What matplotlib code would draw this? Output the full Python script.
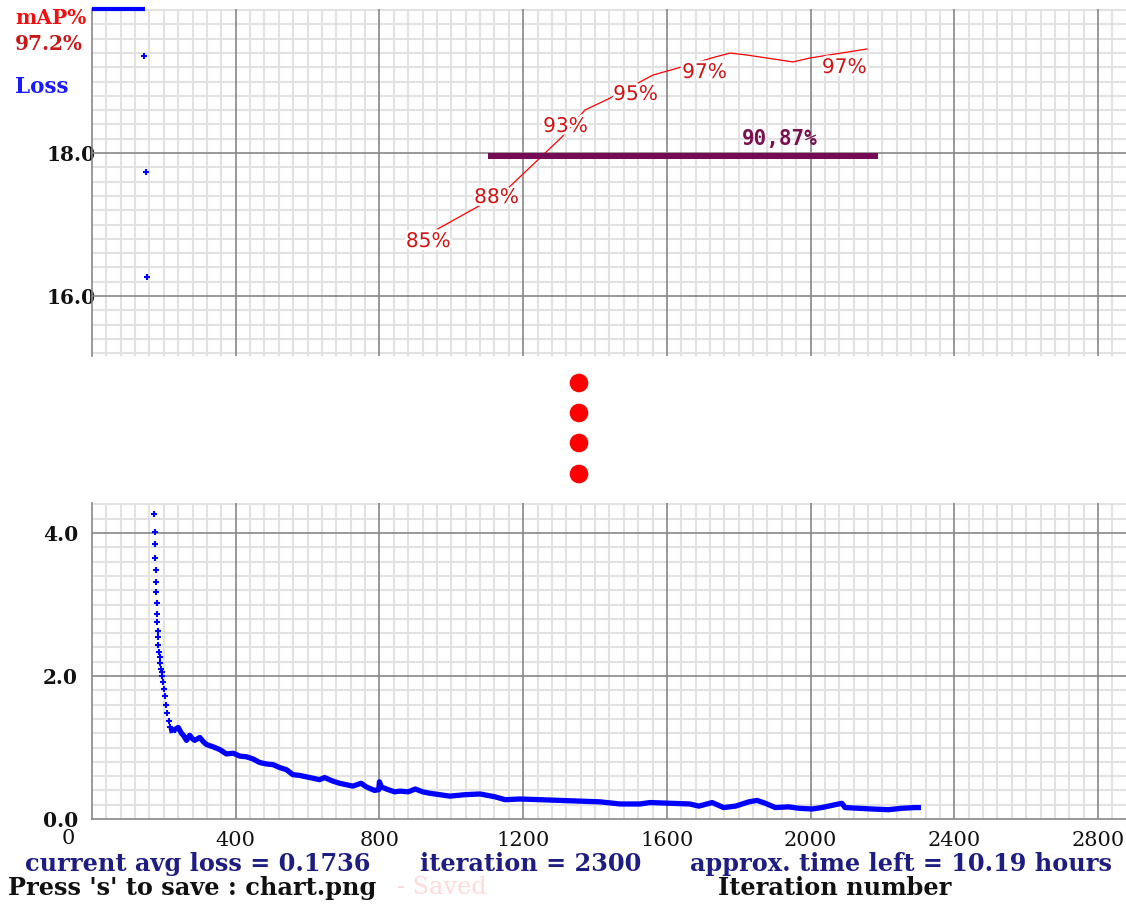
import numpy as np
import matplotlib
matplotlib.use("Agg")
import matplotlib.pyplot as plt
from matplotlib import patheffects as pe
from matplotlib.ticker import MultipleLocator, FixedLocator

# ---------------- data ----------------
x_major_ticks = [0, 400, 800, 1200, 1600, 2000, 2400, 2800]
x_tick_labels = ["0", "400", "800", "1200", "1600", "2000", "2400", "2800"]
top_y_ticks = [16.0, 18.0]
top_y_labels = ["16.0", "18.0"]
bottom_y_ticks = [0.0, 2.0, 4.0]
bottom_y_labels = ["0.0", "2.0", "4.0"]

# loss above the visible range (drawn at the top edge)
loss_offscale_iters = [0, 147]
# sparse loss points in the upper (broken) panel
loss_top_iters = [145, 150, 152]
loss_top_values = [19.36, 17.74, 16.27]

# loss curve in the lower panel
loss_iters = [173, 174, 175, 176, 177, 178, 179, 180, 181, 182, 183, 184, 185, 186,
              188, 190, 192, 194, 196, 198, 200, 202, 205, 209, 213, 218, 222,
              230, 240, 249, 256, 263, 272, 280, 286, 300, 310, 319, 337, 356,
              374, 393, 411, 430, 448, 467, 485, 504, 522, 541, 559, 578, 596,
              615, 633, 647, 670, 689, 707, 726, 749, 763, 786, 798, 800, 805,
              819, 842, 857, 880, 900, 920, 940, 996, 1038, 1080, 1122, 1150,
              1191, 1247, 1303, 1358, 1414, 1470, 1525, 1553, 1609, 1664, 1689,
              1726, 1758, 1791, 1828, 1851, 1874, 1902, 1939, 1967, 2004, 2031,
              2059, 2087, 2096, 2133, 2170, 2217, 2254, 2290, 2300]
loss_values = [4.27, 4.02, 3.85, 3.65, 3.48, 3.31, 3.17, 3.02, 2.87, 2.75, 2.63, 2.54, 2.43, 2.34,
               2.27, 2.18, 2.10, 2.05, 2.00, 1.92, 1.82, 1.72, 1.60, 1.48, 1.37, 1.28, 1.24,
               1.25, 1.28, 1.20, 1.16, 1.10, 1.17, 1.12, 1.10, 1.14, 1.08, 1.04, 1.01, 0.97,
               0.91, 0.92, 0.88, 0.87, 0.84, 0.79, 0.77, 0.76, 0.72, 0.69, 0.62, 0.61, 0.59,
               0.57, 0.55, 0.58, 0.53, 0.50, 0.48, 0.46, 0.50, 0.45, 0.40, 0.41, 0.52, 0.45,
               0.42, 0.38, 0.39, 0.38, 0.42, 0.38, 0.36, 0.32, 0.34, 0.35, 0.31, 0.27,
               0.28, 0.27, 0.26, 0.25, 0.24, 0.21, 0.21, 0.23, 0.22, 0.21, 0.18,
               0.23, 0.16, 0.18, 0.24, 0.26, 0.22, 0.16, 0.17, 0.15, 0.14, 0.16,
               0.19, 0.22, 0.16, 0.15, 0.14, 0.13, 0.15, 0.16, 0.16]

# mAP curve (percent)
map_iters = [957, 1147, 1308, 1372, 1442, 1561, 1631, 1734, 1776, 1823, 1951, 1998, 2157]
map_values = [85.62, 88.32, 92.22, 94.13, 94.98, 96.61, 97.11, 97.89, 98.17, 98.03, 97.54, 97.82, 98.46]
map_label_iters = [957, 1147, 1339, 1534, 1726, 2115]
map_label_values = [85.48, 88.60, 93.64, 95.91, 97.47, 97.82]
map_label_texts = ["85%", "88%", "93%", "95%", "97%", "97%"]

ref_map_value = 90.87
ref_map_range = [1102, 2188]
ref_map_text = "90,87%"

current_map_text = "97.2%"
info_loss = "current avg loss = 0.1736"
info_iter = "iteration = 2300"
info_time = "approx. time left = 10.19 hours"

# ---------------- layout ----------------
W, H, DPI = 1126, 906, 100
fig = plt.figure(figsize=(W / DPI, H / DPI), dpi=DPI)
fig.patch.set_facecolor("white")

PX = 0.3593          # pixels per iteration
XMAX = 1034 / PX
left = 92 / W
width = 1034 / W

ax_top = fig.add_axes([left, (H - 356) / H, width, 347 / H])
ax_bot = fig.add_axes([left, (H - 819) / H, width, 316 / H])

MAJ = "#878787"
MIN = "#e2e2e2"
SERIF = "DejaVu Serif"


def style_grid(ax, ylo, yhi, ymajors):
    ax.set_xlim(0, XMAX)
    ax.set_ylim(ylo, yhi)
    ax.xaxis.set_major_locator(FixedLocator(x_major_ticks))
    ax.xaxis.set_minor_locator(MultipleLocator(40))
    ax.yaxis.set_minor_locator(MultipleLocator(0.2))
    ax.grid(which="minor", color=MIN, lw=1.5)
    ax.grid(which="major", visible=False)
    ax.set_axisbelow(True)
    for xt in x_major_ticks[1:]:
        ax.axvline(xt, color=MAJ, lw=1.2, zorder=1)
    for yt in ymajors:
        ax.axhline(yt, color=MAJ, lw=1.2, zorder=1)
    ax.tick_params(which="both", length=0)
    for s in ["top", "right"]:
        ax.spines[s].set_visible(False)
    ax.spines["left"].set_color(MAJ)
    ax.spines["left"].set_linewidth(1.2)
    ax.spines["left"].set_zorder(1)


# ---- top panel ----
style_grid(ax_top, 16 - 60 / 71.5, 18 + 144 / 71.5, top_y_ticks)
ax_top.spines["bottom"].set_visible(False)
ax_top.set_xticklabels([])
ax_top.set_yticks(top_y_ticks)
ax_top.set_yticklabels(top_y_labels, fontfamily=SERIF, fontsize=14.5,
                       fontweight="bold", color="#111111")
ax_top.tick_params(axis="y", pad=-3)

ytop = ax_top.get_ylim()[1]
ax_top.plot(loss_offscale_iters, [ytop, ytop], color="#0000ff", lw=3,
            solid_capstyle="butt", clip_on=False, zorder=5)
ax_top.plot(loss_top_iters, loss_top_values, ls="none", marker="+", ms=4,
            mew=1.5, color="#0000ff", zorder=5)

ax_map = ax_top.twinx()
ax_map.set_ylim(90.87 - 200 / 14.1, 90.87 + 147 / 14.1)
ax_map.set_xlim(0, XMAX)
ax_map.axis("off")
ax_map.plot(map_iters, map_values, color="#ff0000", lw=0.9, zorder=3)
halo = [pe.withStroke(linewidth=4, foreground="white")]
for xi, yi, t in zip(map_label_iters, map_label_values, map_label_texts):
    ax_map.annotate(t, (xi, yi), xytext=(-30 * 0.72, -15 * 0.72),
                    textcoords="offset points", ha="left", va="baseline",
                    fontsize=14.5, color="#d01414", fontfamily="DejaVu Sans",
                    path_effects=halo, zorder=4)
ax_map.plot(ref_map_range, [ref_map_value, ref_map_value], color="#750a55",
            lw=4.3, solid_capstyle="butt", zorder=5)
ax_map.annotate(ref_map_text, (1809, ref_map_value), xytext=(0, 5),
                textcoords="offset points", ha="left", va="bottom",
                fontsize=15, fontweight="bold", color="#7a1050",
                fontfamily="DejaVu Sans Mono", zorder=6)

# ---- bottom panel ----
style_grid(ax_bot, 0, 316 / 71.5, bottom_y_ticks[1:])
ax_bot.spines["bottom"].set_color(MAJ)
ax_bot.spines["bottom"].set_linewidth(1.2)
ax_bot.spines["bottom"].set_zorder(1)
ax_bot.set_yticks(bottom_y_ticks)
ax_bot.set_yticklabels(bottom_y_labels, fontfamily=SERIF, fontsize=14.5,
                       fontweight="bold", color="#111111")
ax_bot.tick_params(axis="y", pad=10)
ax_bot.set_xticklabels([""] + x_tick_labels[1:], fontfamily=SERIF,
                       fontsize=15, color="#111111")
ax_bot.tick_params(axis="x", pad=9)
ax_bot.annotate(x_tick_labels[0], (x_major_ticks[0], 0), xytext=(-24 * 0.72, -9 * 0.72 - 1),
                textcoords="offset points", ha="center", va="top",
                fontfamily=SERIF, fontsize=15, color="#111111", annotation_clip=False)

steep = 28
ax_bot.plot(loss_iters[:steep], loss_values[:steep], ls="none", marker="+",
            ms=4, mew=1.5, color="#0000ff", zorder=5)
ax_bot.plot(loss_iters[steep - 2:], loss_values[steep - 2:], color="#0000ff",
            lw=3.8, solid_joinstyle="round", zorder=5)

# ---- texts ----
fig.text(15 / W, 1 - 18 / H, "mAP%", fontfamily=SERIF, fontsize=14.5,
         fontweight="bold", color="#ee1111", va="center", ha="left")
fig.text(15 / W, 1 - 44 / H, current_map_text, fontfamily=SERIF, fontsize=14.5,
         fontweight="bold", color="#c81818", va="center", ha="left")
fig.text(15 / W, 1 - 87 / H, "Loss", fontfamily=SERIF, fontsize=15.5,
         fontweight="bold", color="#1a1aff", va="center", ha="left")

NAVY = "#1e1e82"
FS = 17.3
fig.text(25 / W, 1 - 864 / H, info_loss, fontfamily=SERIF, fontsize=FS,
         fontweight="bold", color=NAVY, va="center", ha="left")
fig.text(420 / W, 1 - 864 / H, info_iter, fontfamily=SERIF, fontsize=FS,
         fontweight="bold", color=NAVY, va="center", ha="left")
fig.text(690 / W, 1 - 864 / H, info_time, fontfamily=SERIF, fontsize=FS,
         fontweight="bold", color=NAVY, va="center", ha="left")
fig.text(8 / W, 1 - 888 / H, "Press 's' to save : chart.png", fontfamily=SERIF,
         fontsize=FS, fontweight="bold", color="#111111", va="center", ha="left")
fig.text(397 / W, 1 - 888 / H, "- Saved", fontfamily=SERIF, fontsize=FS,
         color="#ffdada", va="center", ha="left")
fig.text(718 / W, 1 - 888 / H, "Iteration number", fontfamily=SERIF,
         fontsize=FS, fontweight="bold", color="#111111", va="center", ha="left")

# ---- break marker dots ----
ax_dots = fig.add_axes([0, 0, 1, 1])
ax_dots.set_xlim(0, W)
ax_dots.set_ylim(H, 0)
ax_dots.axis("off")
ax_dots.scatter([579, 579, 579, 579], [383, 413, 443, 474], s=180,
                color="#ff0000", edgecolors="none")

fig.savefig("out.png", dpi=DPI, facecolor="white")
